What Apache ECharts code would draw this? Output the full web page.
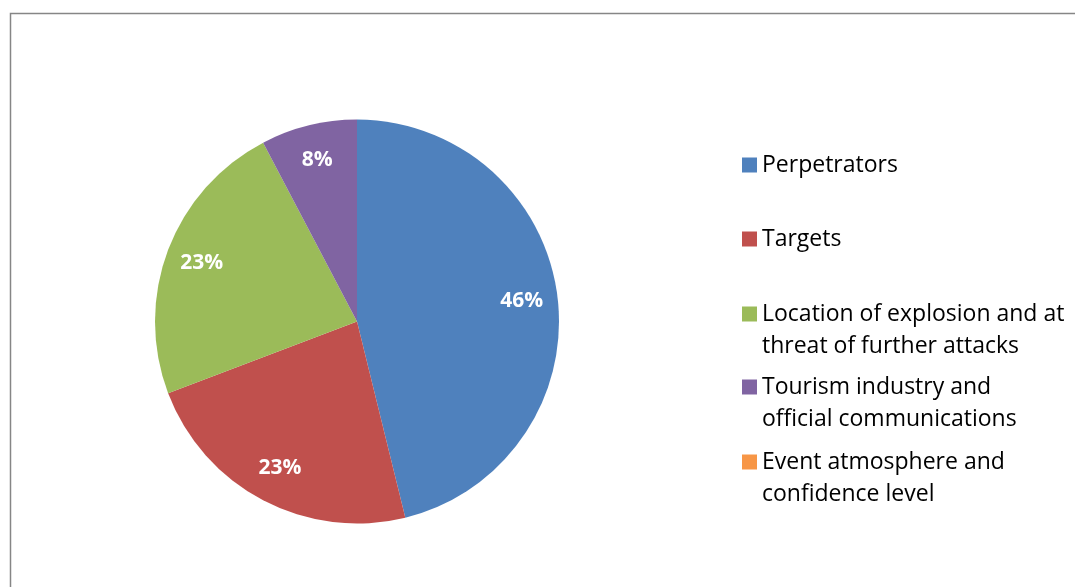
<!DOCTYPE html>
<html>
<head>
<meta charset="utf-8">
<script src="https://cdn.jsdelivr.net/npm/echarts@6/dist/echarts.min.js"></script>
<style>
	html, body { margin: 0; padding: 0; background: #fff; }
	#main { width: 1075px; height: 587px; }
</style>
</head>
<body>
<div id="main"></div>
<script>
// categories and counts (46% / 23% / 23% / 8% / 0%)
var categories = [
	'Perpetrators',
	'Targets',
	'Location of explosion and at\nthreat of further attacks',
	'Tourism industry and\nofficial communications',
	'Event atmosphere and\nconfidence level'
];
var values = [6, 3, 3, 1, 0];
var colors = ['#4F81BD', '#C0504D', '#9BBB59', '#8064A2', '#F79646'];

var fontName = '"Open Sans", "Noto Sans", sans-serif';
var legendCenters = [165, 239, 314, 387, 462];

function pieData() {
	var data = [];
	for (var i = 0; i < categories.length; i++) {
		data.push({ name: categories[i], value: values[i] });
	}
	return data;
}

// one legend per entry so the rows keep Excel's even spacing
function buildLegends() {
	var legends = [];
	categories.forEach(function (name, i) {
		var twoLines = name.indexOf('\n') >= 0;
		legends.push({
			orient: 'vertical',
			left: 742,
			top: legendCenters[i] - (twoLines ? 48 : 16),
			padding: 0,
			itemWidth: 15,
			itemHeight: 15,
			icon: 'rect',
			selectedMode: false,
			data: [name],
			// an empty first line keeps the marker beside the first text line
			formatter: function (n) {
				return n.indexOf('\n') >= 0 ? ' \n' + n : n;
			},
			textStyle: {
				fontFamily: fontName,
				fontSize: 23,
				color: '#000',
				lineHeight: 32
			}
		});
	});
	return legends;
}

var chart = echarts.init(document.getElementById('main'), null, { renderer: 'canvas' });

chart.setOption({
	backgroundColor: '#ffffff',
	color: colors,
	animation: false,
	legend: buildLegends(),
	graphic: [{
		type: 'rect',
		shape: { x: 10.5, y: 13.5, width: 1100, height: 600 },
		style: { fill: 'none', stroke: '#868686', lineWidth: 1.5 },
		silent: true
	}],
	series: [{
		type: 'pie',
		center: [357, 321.5],
		radius: [0, 202],
		startAngle: 90,
		clockwise: true,
		label: { show: false },
		labelLine: { show: false },
		emphasis: { disabled: true },
		data: pieData()
	}, {
		// transparent ring used only to place the percentages at ~0.8r
		type: 'pie',
		center: [357, 321.5],
		radius: [124, 202],
		startAngle: 90,
		clockwise: true,
		silent: true,
		itemStyle: { color: 'rgba(0,0,0,0)' },
		label: {
			show: true,
			position: 'inside',
			color: '#fff',
			fontWeight: 'bold',
			fontSize: 21,
			fontFamily: fontName,
			formatter: function (p) {
				return p.value ? Math.round(p.percent) + '%' : '';
			}
		},
		labelLine: { show: false },
		emphasis: { disabled: true },
		data: pieData()
	}]
});
</script>
</body>
</html>
